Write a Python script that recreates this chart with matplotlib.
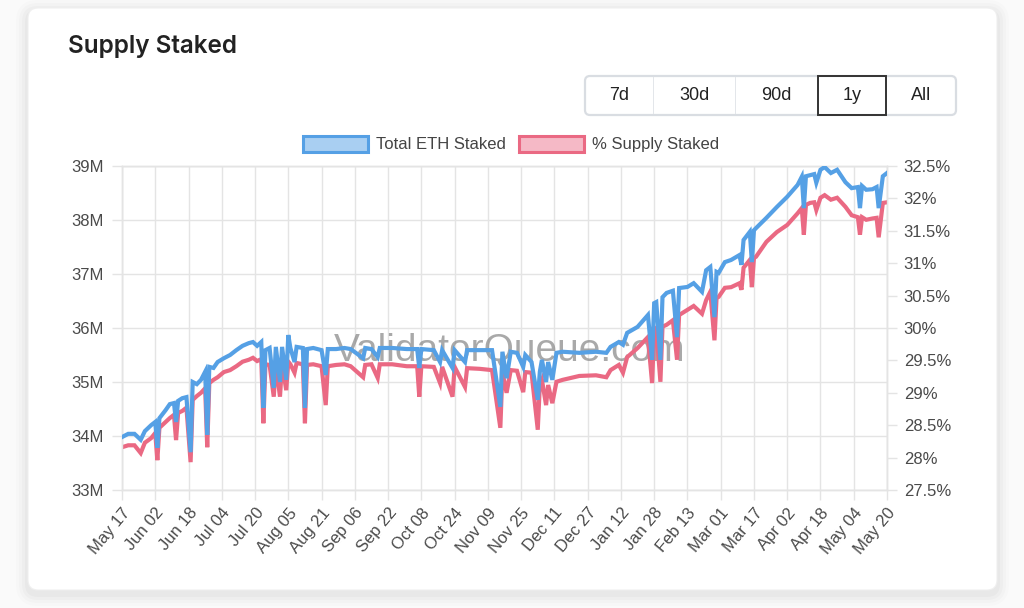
import numpy as np
import pandas as pd
import matplotlib
matplotlib.use("Agg")
import matplotlib.pyplot as plt
from matplotlib.patches import FancyBboxPatch, Rectangle, Patch
from matplotlib.transforms import IdentityTransform
from matplotlib.ticker import FuncFormatter

# ---- data (daily points, spikes are 1-day dips) ----
dates = [
    "2024-05-17", "2024-05-20", "2024-05-23", "2024-05-26", "2024-05-28", "2024-05-31",
    "2024-06-02", "2024-06-03", "2024-06-04", "2024-06-07", "2024-06-09", "2024-06-11",
    "2024-06-12", "2024-06-13", "2024-06-15", "2024-06-17", "2024-06-19", "2024-06-20",
    "2024-06-22", "2024-06-24", "2024-06-26", "2024-06-27", "2024-06-28", "2024-06-30",
    "2024-07-02", "2024-07-05", "2024-07-08", "2024-07-11", "2024-07-14", "2024-07-17",
    "2024-07-19", "2024-07-21", "2024-07-23", "2024-07-24", "2024-07-25", "2024-07-27",
    "2024-07-29", "2024-07-30", "2024-08-01", "2024-08-02", "2024-08-04", "2024-08-05",
    "2024-08-06", "2024-08-08", "2024-08-09", "2024-08-12", "2024-08-13", "2024-08-14",
    "2024-08-17", "2024-08-21", "2024-08-23", "2024-08-24", "2024-08-28", "2024-09-01",
    "2024-09-04", "2024-09-10", "2024-09-11", "2024-09-14", "2024-09-17", "2024-09-18",
    "2024-09-24", "2024-10-01", "2024-10-06", "2024-10-07", "2024-10-08", "2024-10-14",
    "2024-10-17", "2024-10-18", "2024-10-23", "2024-10-24", "2024-10-29", "2024-10-30",
    "2024-11-05", "2024-11-11", "2024-11-15", "2024-11-16", "2024-11-18", "2024-11-20",
    "2024-11-23", "2024-11-26", "2024-11-27", "2024-11-30", "2024-12-03", "2024-12-04",
    "2024-12-05", "2024-12-07", "2024-12-08", "2024-12-10", "2024-12-12", "2024-12-15",
    "2024-12-23", "2024-12-31", "2025-01-05", "2025-01-07", "2025-01-11", "2025-01-13",
    "2025-01-15", "2025-01-20", "2025-01-25", "2025-01-27", "2025-01-28", "2025-01-29",
    "2025-01-31", "2025-02-01", "2025-02-03", "2025-02-06", "2025-02-08", "2025-02-09",
    "2025-02-13", "2025-02-16", "2025-02-20", "2025-02-22", "2025-02-24", "2025-02-26",
    "2025-02-27", "2025-02-28", "2025-03-03", "2025-03-06", "2025-03-10", "2025-03-11",
    "2025-03-12", "2025-03-15", "2025-03-16", "2025-03-17", "2025-03-18", "2025-03-23",
    "2025-03-28", "2025-04-02", "2025-04-07", "2025-04-09", "2025-04-10", "2025-04-11",
    "2025-04-13", "2025-04-15", "2025-04-16", "2025-04-18", "2025-04-20", "2025-04-23",
    "2025-04-26", "2025-04-30", "2025-05-03", "2025-05-06", "2025-05-07", "2025-05-08",
    "2025-05-10", "2025-05-13", "2025-05-15", "2025-05-16", "2025-05-18", "2025-05-20",
]

# Total ETH staked, millions
eth_staked = [
    33.98, 34.04, 34.04, 33.93, 34.09, 34.20,
    34.26, 33.78, 34.33, 34.48, 34.59, 34.61,
    34.26, 34.65, 34.70, 34.72, 33.70, 35.00,
    34.96, 35.04, 35.19, 34.02, 35.28, 35.26,
    35.37, 35.44, 35.50, 35.59, 35.67, 35.72,
    35.74, 35.67, 35.74, 34.52, 35.59, 35.63,
    34.89, 35.65, 35.00, 35.65, 35.04, 35.87,
    35.63, 35.37, 35.65, 35.63, 34.52, 35.61,
    35.63, 35.59, 35.13, 35.61, 35.61, 35.63,
    35.61, 35.44, 35.63, 35.61, 35.46, 35.63,
    35.63, 35.61, 35.61, 35.26, 35.61, 35.59,
    35.37, 35.59, 35.26, 35.59, 35.37, 35.59,
    35.59, 35.59, 34.54, 35.56, 35.07, 35.56,
    35.54, 35.28, 35.50, 35.37, 34.67, 35.19,
    35.41, 35.00, 35.37, 35.04, 35.54, 35.56,
    35.54, 35.56, 35.54, 35.65, 35.74, 35.69,
    35.91, 36.02, 36.24, 35.41, 36.46, 36.48,
    35.41, 36.57, 36.65, 36.69, 35.83, 36.74,
    36.76, 36.83, 36.67, 37.07, 37.13, 36.20,
    37.04, 37.02, 37.22, 37.26, 37.35, 37.17,
    37.63, 37.78, 37.22, 37.81, 37.85, 38.04,
    38.24, 38.43, 38.65, 38.80, 38.22, 38.81,
    38.83, 38.85, 38.69, 38.93, 38.98, 38.87,
    38.93, 38.70, 38.59, 38.61, 38.22, 38.63,
    38.56, 38.57, 38.61, 38.22, 38.81, 38.87,
]

# % of supply staked
pct_staked = [
    28.16, 28.19, 28.19, 28.07, 28.23, 28.30,
    28.38, 27.96, 28.46, 28.55, 28.61, 28.66,
    28.27, 28.69, 28.72, 28.77, 27.93, 28.89,
    28.95, 29.00, 29.07, 28.16, 29.15, 29.20,
    29.24, 29.32, 29.35, 29.41, 29.48, 29.51,
    29.54, 29.49, 29.52, 28.53, 29.44, 29.43,
    28.94, 29.44, 28.94, 29.46, 29.04, 29.48,
    29.44, 29.31, 29.46, 29.44, 28.53, 29.43,
    29.44, 29.41, 28.81, 29.41, 29.43, 29.44,
    29.41, 29.24, 29.43, 29.44, 29.23, 29.44,
    29.44, 29.41, 29.41, 28.94, 29.41, 29.40,
    29.15, 29.40, 28.94, 29.40, 29.09, 29.38,
    29.37, 29.35, 28.46, 29.32, 29.00, 29.35,
    29.34, 29.01, 29.32, 29.31, 28.43, 29.12,
    29.20, 28.81, 29.12, 28.84, 29.17, 29.20,
    29.26, 29.27, 29.24, 29.35, 29.43, 29.31,
    29.55, 29.69, 29.86, 29.15, 29.97, 30.00,
    29.17, 30.02, 30.05, 30.12, 29.51, 30.20,
    30.28, 30.34, 30.22, 30.43, 30.56, 29.81,
    30.46, 30.48, 30.62, 30.63, 30.69, 30.59,
    30.93, 31.05, 30.63, 31.08, 31.10, 31.33,
    31.48, 31.59, 31.77, 31.85, 31.44, 31.90,
    31.93, 31.94, 31.82, 32.01, 32.05, 31.98,
    32.01, 31.87, 31.74, 31.71, 31.44, 31.71,
    31.67, 31.69, 31.70, 31.40, 31.93, 31.94,
]

ranges = ["7d", "30d", "90d", "1y", "All"]
selected_range = "1y"

BLUE = "#55a0e5"
RED = "#ea6983"
GRID = "#e4e4e4"
TXT = "#4a4a4a"

x = pd.to_datetime(dates)
x_ticks = pd.date_range("2024-05-17", "2025-05-20", freq="16D")

plt.rcParams["font.family"] = ["Liberation Sans", "DejaVu Sans"]

W, H = 1024, 608
fig = plt.figure(figsize=(W / 100, H / 100), dpi=100, facecolor="#fafafa")

# card with a soft shadow (kept behind the axes)
for i, a in enumerate([0.025, 0.02, 0.015, 0.01]):
    p = i * 3 + 3
    fig.patches.append(FancyBboxPatch((28 - p, H - 590 - p - 4), 969 + 2 * p, 582 + 2 * p,
                                      boxstyle="round,pad=0,rounding_size=%d" % (10 + p),
                                      transform=IdentityTransform(), facecolor="black",
                                      edgecolor="none", alpha=a, zorder=-20))
fig.patches.append(FancyBboxPatch((28, H - 590), 969, 582, boxstyle="round,pad=0,rounding_size=10",
                                  transform=IdentityTransform(), facecolor="white",
                                  edgecolor="#efefef", lw=0.8, zorder=-10))

fig.text(68 / W, 1 - 47 / H, "Supply Staked", fontsize=17.5, fontweight="semibold",
         family=["Inter", "DejaVu Sans"], color="#222222", va="center", ha="left")

# range buttons
bx = [585, 653, 735, 818, 886, 956]
by0, by1 = H - 115, H - 76
fig.patches.append(FancyBboxPatch((bx[0], by0), bx[-1] - bx[0], by1 - by0,
                                  boxstyle="round,pad=0,rounding_size=5", transform=IdentityTransform(),
                                  facecolor="white", edgecolor="#d9dde2", lw=1.6, zorder=2))
for i, lab in enumerate(ranges):
    if i > 0:
        fig.patches.append(Rectangle((bx[i], by0 + 1), 0.8, by1 - by0 - 2, transform=IdentityTransform(),
                                     facecolor="#e3e6ea", edgecolor="none", zorder=3))
    if lab == selected_range:
        fig.patches.append(Rectangle((bx[i], by0), bx[i + 1] - bx[i], by1 - by0, transform=IdentityTransform(),
                                     facecolor="none", edgecolor="#333333", lw=1.4, zorder=4))
    fig.text((bx[i] + bx[i + 1]) / 2 / W, (by0 + by1) / 2 / H, lab, fontsize=13, color="#222222",
             ha="center", va="center", zorder=5)

# axes
ax = fig.add_axes([122 / W, (H - 490) / H, 765 / W, 324 / H])
ax.set_facecolor("none")
ax2 = ax.twinx()

ax.set_xlim(x_ticks[0], x_ticks[-1])
ax.set_ylim(33, 39)
ax2.set_ylim(27.5, 32.5)

ax.grid(True, color=GRID, lw=1)
ax.set_axisbelow(True)

ax2.plot(x, pct_staked, color=RED, lw=3.0, solid_joinstyle="miter", zorder=2)
# blue drawn with the left-axis scale but on top of the red line
ax2.plot(x, eth_staked, color=BLUE, lw=3.0, solid_joinstyle="miter", zorder=3,
         transform=ax.transData)

ax.set_xticks(x_ticks)
ax.set_xticklabels([d.strftime("%b %d") for d in x_ticks], rotation=50, ha="right",
                   rotation_mode="anchor")
ax.set_yticks(np.arange(33, 39.01, 1))
ax.yaxis.set_major_formatter(FuncFormatter(lambda v, p: "%gM" % v))
ax2.set_yticks(np.arange(27.5, 32.51, 0.5))
ax2.yaxis.set_major_formatter(FuncFormatter(lambda v, p: "%g%%" % v))

ax.tick_params(axis="both", length=7, color=GRID, width=1, labelsize=12, labelcolor=TXT)
ax.tick_params(axis="y", pad=6)
ax.tick_params(axis="x", pad=4)
ax2.tick_params(axis="y", length=7, color=GRID, width=1, labelsize=12, labelcolor=TXT, pad=5)
for a in (ax, ax2):
    for s in a.spines.values():
        s.set_color(GRID)
        s.set_linewidth(1)

ax.text(0.507, 0.43, "ValidatorQueue.com", transform=ax.transAxes, fontsize=28,
        family=["Liberation Sans", "DejaVu Sans"], color="#8c8c8c", alpha=0.75,
        ha="center", va="center", zorder=10)

handles = [Patch(facecolor="#a9cff2", edgecolor=BLUE, lw=2.2, label="Total ETH Staked"),
           Patch(facecolor="#f5b9c6", edgecolor=RED, lw=2.2, label="% Supply Staked")]
fig.legend(handles=handles, loc="center", bbox_to_anchor=(511 / W, 1 - 144 / H), ncol=2,
           frameon=False, fontsize=12, handlelength=3.9, handleheight=1.15,
           handletextpad=0.5, columnspacing=0.8, labelcolor="#444444")

fig.savefig("out.png", dpi=100, facecolor=fig.get_facecolor())
